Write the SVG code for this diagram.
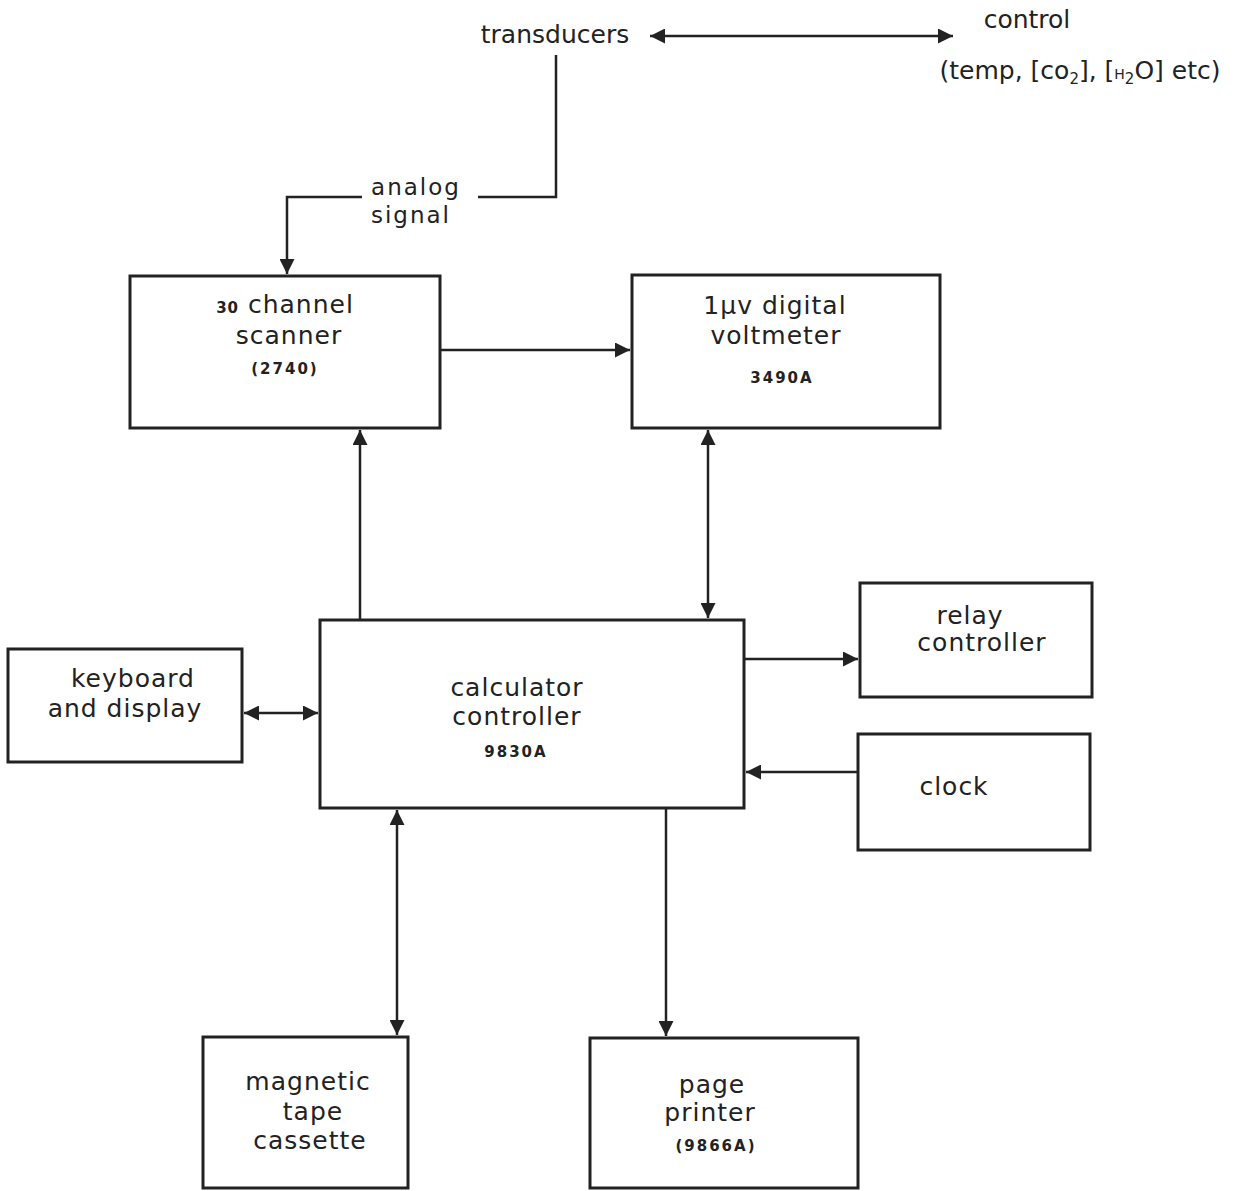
<svg xmlns="http://www.w3.org/2000/svg" width="1236" height="1191" viewBox="0 0 1236 1191">
<defs>
<style>
.box{fill:none;stroke:#222;stroke-width:3}
.ln{fill:none;stroke:#222;stroke-width:2.5}
text{font-family:"DejaVu Sans","Liberation Sans",sans-serif;fill:#222;text-anchor:middle}
.t{font-size:25px;letter-spacing:1px}
.s{font-size:15px;font-weight:bold;letter-spacing:2px}
</style>
<marker id="b" viewBox="0 0 10 10" refX="10" refY="5" markerWidth="6" markerHeight="6" orient="auto-start-reverse">
<path d="M0,0 L10,5 L0,10 z" fill="#222"/>
</marker>
</defs>
<rect width="1236" height="1191" fill="#fff"/>
<g id="connectors">
<line class="ln" x1="650" y1="36" x2="953" y2="36" marker-start="url(#b)" marker-end="url(#b)"/>
<polyline class="ln" points="556,55 556,197 478,197"/>
<polyline class="ln" points="362,197 287,197 287,274" marker-end="url(#b)"/>
<line class="ln" x1="440" y1="350" x2="630" y2="350" marker-end="url(#b)"/>
<line class="ln" x1="360" y1="620" x2="360" y2="430" marker-end="url(#b)"/>
<line class="ln" x1="708" y1="430" x2="708" y2="618" marker-start="url(#b)" marker-end="url(#b)"/>
<line class="ln" x1="744" y1="659" x2="858" y2="659" marker-end="url(#b)"/>
<line class="ln" x1="858" y1="772" x2="746" y2="772" marker-end="url(#b)"/>
<line class="ln" x1="244" y1="713" x2="318" y2="713" marker-start="url(#b)" marker-end="url(#b)"/>
<line class="ln" x1="397" y1="810" x2="397" y2="1035" marker-start="url(#b)" marker-end="url(#b)"/>
<line class="ln" x1="666" y1="808" x2="666" y2="1036" marker-end="url(#b)"/>
</g>
<g id="transducers"><text class="t" x="555" y="43" style="letter-spacing:0">transducers</text></g>
<g id="control"><text class="t" x="1027" y="28" style="letter-spacing:0">control</text>
<text class="t" x="1080" y="79" style="letter-spacing:0">(temp, [co<tspan font-size="15" dy="5">2</tspan><tspan dy="-5">], [</tspan><tspan font-size="14">H</tspan><tspan font-size="15" dy="5">2</tspan><tspan dy="-5">O] etc)</tspan></text></g>
<g id="analog"><text class="t" x="416" y="195" style="font-size:23px;letter-spacing:2px">analog</text><text class="t" x="411" y="223" style="font-size:23px;letter-spacing:2px">signal</text></g>
<g id="scanner"><rect class="box" x="130" y="276" width="310" height="152"/>
<text class="t" x="285" y="313"><tspan font-size="15" font-weight="bold">30</tspan> channel</text>
<text class="t" x="289" y="344">scanner</text>
<text class="s" x="285" y="374">(2740)</text></g>
<g id="voltmeter"><rect class="box" x="632" y="275" width="308" height="153"/>
<text class="t" x="775" y="314">1μv digital</text>
<text class="t" x="776" y="344">voltmeter</text>
<text class="s" x="782" y="383">3490A</text></g>
<g id="calculator"><rect class="box" x="320" y="620" width="424" height="188"/>
<text class="t" x="517" y="696">calculator</text>
<text class="t" x="517" y="725">controller</text>
<text class="s" x="516" y="757">9830A</text></g>
<g id="keyboard"><rect class="box" x="8" y="649" width="234" height="113"/>
<text class="t" x="133" y="687">keyboard</text>
<text class="t" x="125" y="717">and display</text></g>
<g id="relay"><rect class="box" x="860" y="583" width="232" height="114"/>
<text class="t" x="970" y="624">relay</text>
<text class="t" x="982" y="651">controller</text></g>
<g id="clock"><rect class="box" x="858" y="734" width="232" height="116"/>
<text class="t" x="954" y="795">clock</text></g>
<g id="tape"><rect class="box" x="203" y="1037" width="205" height="151"/>
<text class="t" x="308" y="1090">magnetic</text>
<text class="t" x="313" y="1120">tape</text>
<text class="t" x="310" y="1149">cassette</text></g>
<g id="printer"><rect class="box" x="590" y="1038" width="268" height="150"/>
<text class="t" x="712" y="1093">page</text>
<text class="t" x="710" y="1121">printer</text>
<text class="s" x="716" y="1151">(9866A)</text></g>
</svg>
